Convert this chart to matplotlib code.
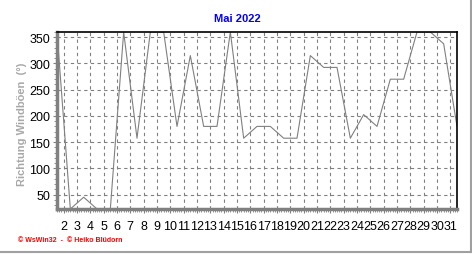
import matplotlib
matplotlib.use("Agg")
from matplotlib import pyplot as plt
from matplotlib.ticker import MultipleLocator
from matplotlib.lines import Line2D

plt.rcParams["font.family"] = ["Liberation Sans", "DejaVu Sans"]

days = list(range(1, 32))
direction = [360, 22.5, 45, 22.5, 22.5, 360, 157.5, 360, 360, 180,
             315, 180, 180, 360, 157.5, 180, 180, 157.5, 157.5, 315,
             292.5, 292.5, 157.5, 202.5, 180, 270, 270, 360, 360, 337.5,
             180]
tick_days = list(range(2, 32))
y_ticks = [50, 100, 150, 200, 250, 300, 350]

fig = plt.figure(figsize=(4.72, 2.55), dpi=100)
ax = fig.add_axes([57 / 472, 1 - 210 / 255, 400 / 472, 177 / 255])

ax.plot(days, direction, color="#808080", linewidth=0.8)

ax.set_xlim(1, 31)
ax.set_ylim(22.5, 360)

ax.set_xticks([d - 0.5 for d in tick_days])
ax.set_xticklabels([str(d) for d in tick_days])
ax.xaxis.set_minor_locator(MultipleLocator(1 / 6))
ax.set_yticks(y_ticks)
ax.yaxis.set_minor_locator(MultipleLocator(10))

ax.grid(True, which="major", color="#808080", linestyle=(0, (3, 3)), linewidth=0.8)

ax.tick_params(axis="both", which="major", labelsize=9, color="#808080", length=3, pad=2)
ax.tick_params(axis="both", which="minor", color="#808080", length=2, width=0.6)
ax.tick_params(axis="x", pad=5)

for side in ["left", "bottom"]:
    ax.spines[side].set_color("#808080")
    ax.spines[side].set_linewidth(2.5)
for side in ["top", "right"]:
    ax.spines[side].set_color("black")
    ax.spines[side].set_linewidth(1.2)

fig.text(237 / 472, 1 - 19 / 255, "Mai 2022", color="#0000ff", fontsize=8,
         fontweight="bold", ha="center", va="center")
fig.text(22 / 472, 1 - 124 / 255, "Richtung Windböen  (°)", color="#a8a8a8",
         fontsize=8, fontweight="bold", rotation=90, ha="center", va="center")
fig.text(18 / 472, 1 - 241 / 255, "\u00a9 WsWin32  -  \u00a9 Heiko Blüdorn",
         color="#ff0000", fontsize=5, fontweight="bold", ha="left", va="center")

# sunken frame on the right and bottom
fig.add_artist(Line2D([470.5 / 472, 470.5 / 472], [1 - 253 / 255, 1], color="#a0a0a0", linewidth=1.5))
fig.add_artist(Line2D([0, 470.5 / 472], [1 - 253 / 255, 1 - 253 / 255], color="#a0a0a0", linewidth=1.5))

fig.savefig("out.png", dpi=100)
